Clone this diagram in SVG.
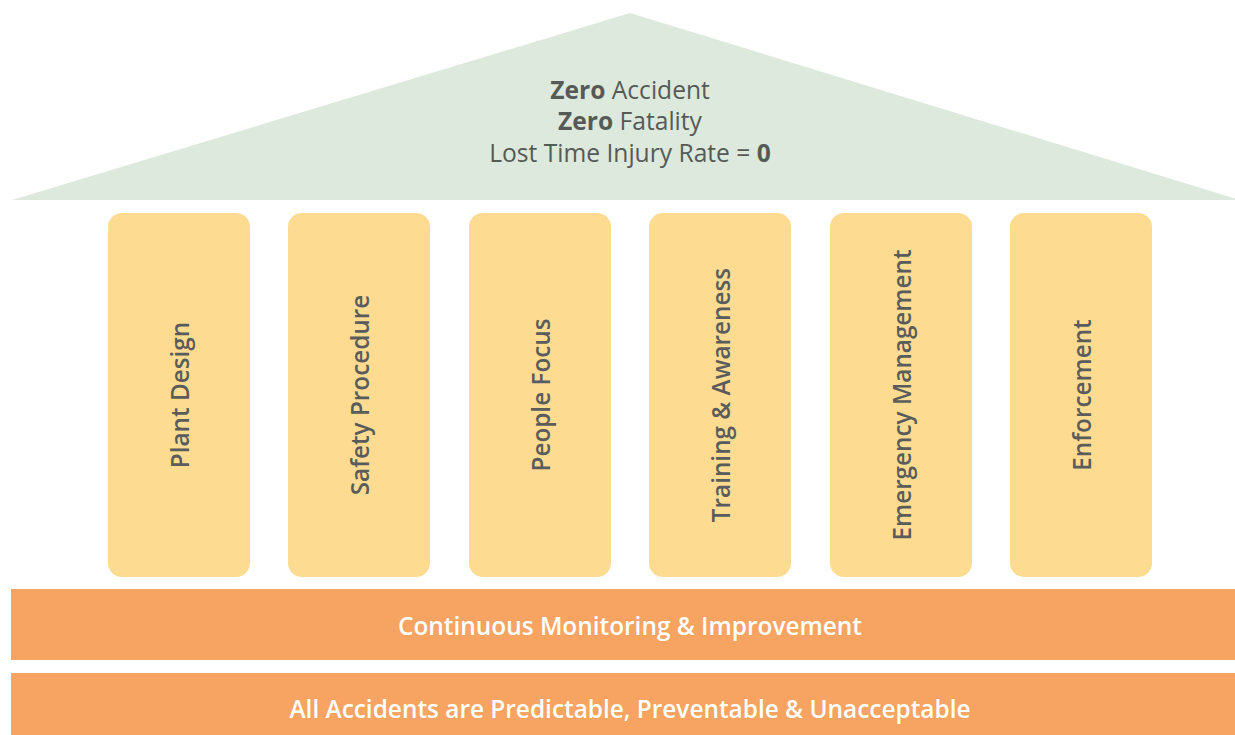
<svg xmlns="http://www.w3.org/2000/svg" width="1235" height="735" viewBox="0 0 1235 735">
  <style>
    .roof-text { font-family: "Open Sans", "Noto Sans", sans-serif; font-size: 24.6px; fill: #555a57; text-anchor: middle; }
    .roof-text .b { font-weight: 700; }
    .pillar { fill: #fddc91; }
    .pillar-text { font-family: "Open Sans", "Noto Sans", sans-serif; font-size: 24.3px; font-weight: 600; fill: #5a5c5c; text-anchor: middle; dominant-baseline: central; }
    .band { fill: #f7a462; }
    .band-text { font-family: "Open Sans", "Noto Sans", sans-serif; font-size: 24.4px; font-weight: 600; fill: #ffffff; text-anchor: middle; }
  </style>
  <rect width="1235" height="735" fill="#ffffff"/>

  <!-- roof -->
  <g id="roof">
    <polygon points="12,200 630,13 1240,200" fill="#dce9dc"/>
    <text class="roof-text" x="630" y="99"><tspan class="b">Zero</tspan> Accident</text>
    <text class="roof-text" x="630" y="130"><tspan class="b">Zero</tspan> Fatality</text>
    <text class="roof-text" x="630" y="162">Lost Time Injury Rate = <tspan class="b">0</tspan></text>
  </g>

  <!-- pillars -->
  <g id="pillar-plant-design">
    <rect class="pillar" x="108" y="213" width="142" height="364" rx="14"/>
    <text class="pillar-text" transform="translate(179,395) rotate(-90)">Plant Design</text>
  </g>
  <g id="pillar-safety-procedure">
    <rect class="pillar" x="288" y="213" width="142" height="364" rx="14"/>
    <text class="pillar-text" transform="translate(359,395) rotate(-90)">Safety Procedure</text>
  </g>
  <g id="pillar-people-focus">
    <rect class="pillar" x="469" y="213" width="142" height="364" rx="14"/>
    <text class="pillar-text" transform="translate(540,395) rotate(-90)">People Focus</text>
  </g>
  <g id="pillar-training">
    <rect class="pillar" x="649" y="213" width="142" height="364" rx="14"/>
    <text class="pillar-text" transform="translate(720,395) rotate(-90)">Training &amp; Awareness</text>
  </g>
  <g id="pillar-emergency">
    <rect class="pillar" x="830" y="213" width="142" height="364" rx="14"/>
    <text class="pillar-text" transform="translate(901,395) rotate(-90)">Emergency Management</text>
  </g>
  <g id="pillar-enforcement">
    <rect class="pillar" x="1010" y="213" width="142" height="364" rx="14"/>
    <text class="pillar-text" transform="translate(1081,395) rotate(-90)">Enforcement</text>
  </g>

  <!-- foundation bands -->
  <g id="band-monitoring">
    <rect class="band" x="11" y="589" width="1224" height="71"/>
    <text class="band-text" x="630" y="635">Continuous Monitoring &amp; Improvement</text>
  </g>
  <g id="band-principle">
    <rect class="band" x="11" y="673" width="1224" height="62"/>
    <text class="band-text" x="630" y="718">All Accidents are Predictable, Preventable &amp; Unacceptable</text>
  </g>

  <g id="connectors"/>
</svg>
